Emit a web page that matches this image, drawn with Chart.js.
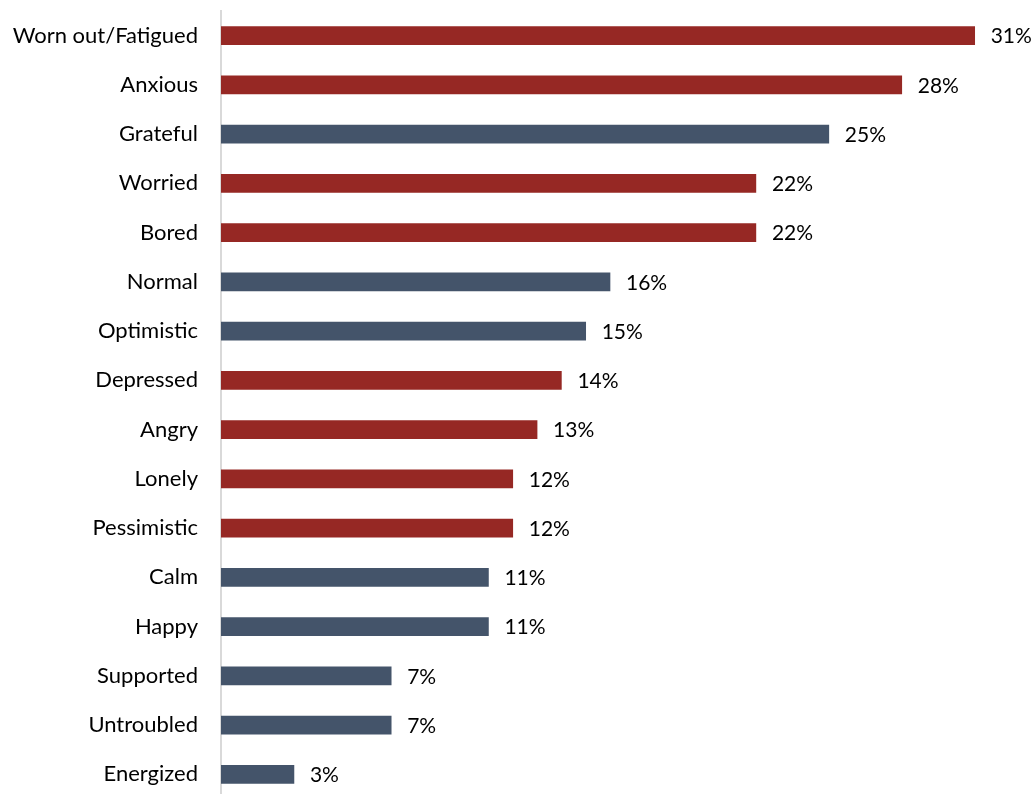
<!DOCTYPE html>
<html>
<head>
<meta charset="utf-8">
<script src="https://cdn.jsdelivr.net/npm/chart.js@4/dist/chart.umd.min.js"></script>
<style>
  html, body { margin: 0; padding: 0; background: #fff; overflow: hidden; }
  #wrap { width: 1033px; height: 800px; }
</style>
</head>
<body>
<div id="wrap"><canvas id="c" width="1033" height="800"></canvas></div>
<script>
// Feelings reported, share of respondents (%)
const feelings = [
  'Worn out/Fatigued', 'Anxious', 'Grateful', 'Worried', 'Bored', 'Normal',
  'Optimistic', 'Depressed', 'Angry', 'Lonely', 'Pessimistic', 'Calm',
  'Happy', 'Supported', 'Untroubled', 'Energized'
];
const shares = [31, 28, 25, 22, 22, 16, 15, 14, 13, 12, 12, 11, 11, 7, 7, 3];
// 'neg' = negative feeling, 'pos' = positive/neutral feeling
const tone = ['neg', 'neg', 'pos', 'neg', 'neg', 'pos', 'pos', 'neg', 'neg', 'neg', 'neg', 'pos', 'pos', 'pos', 'pos', 'pos'];

const toneColour = { neg: '#962824', pos: '#44546A' };
const FONT = 'Lato, Calibri, "Open Sans", sans-serif';

// Writes the percentage just past the end of each bar
const valueLabels = {
  id: 'valueLabels',
  afterDatasetsDraw(chart) {
    const ctx = chart.ctx;
    const meta = chart.getDatasetMeta(0);
    ctx.save();
    ctx.font = '21px ' + FONT;
    ctx.fillStyle = '#000';
    ctx.textAlign = 'left';
    ctx.textBaseline = 'middle';
    meta.data.forEach((bar, i) => {
      ctx.fillText(shares[i] + '%', bar.x + 16, bar.y + 1);
    });
    ctx.restore();
  }
};

new Chart(document.getElementById('c'), {
  type: 'bar',
  data: {
    labels: feelings,
    datasets: [{
      data: shares,
      backgroundColor: tone.map(t => toneColour[t]),
      barThickness: 18,
      categoryPercentage: 1,
      barPercentage: 1
    }]
  },
  options: {
    indexAxis: 'y',
    responsive: false,
    animation: false,
    events: [],
    layout: { padding: { top: 11, bottom: 1, left: 0, right: 34 } },
    plugins: { legend: { display: false }, tooltip: { enabled: false } },
    scales: {
      x: { display: false, min: 0, max: 32 },
      y: {
        afterFit(scale) {
          scale.width = 221;
          scale.paddingTop = 0;
          scale.paddingBottom = 0;
        },
        grid: { display: false, drawTicks: false },
        border: { display: true, color: '#d9d9d9', width: 2 },
        ticks: {
          padding: 23,
          color: '#000',
          font: { family: FONT, size: 22 }
        }
      }
    }
  },
  plugins: [valueLabels]
});
</script>
</body>
</html>
